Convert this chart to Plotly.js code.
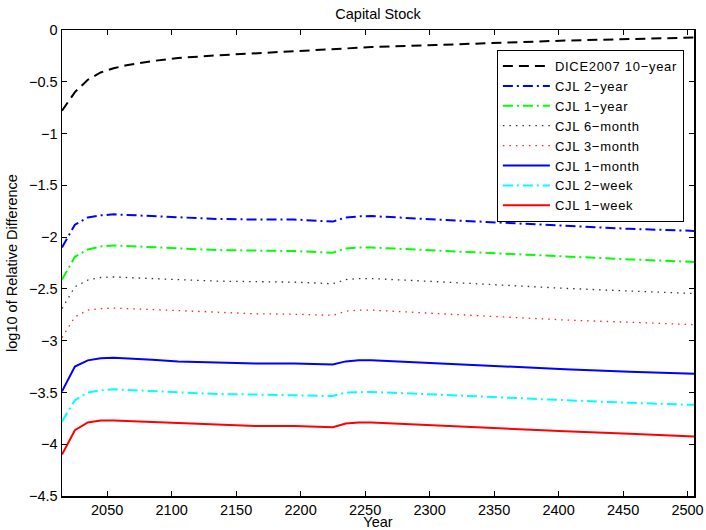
<!DOCTYPE html>
<html>
<head>
<meta charset="utf-8">
<script src="https://cdn.plot.ly/plotly-3.0.1.min.js"></script>
<style>
  html, body { margin: 0; padding: 0; background: #fff; }
  #chart { width: 706px; height: 530px; }
  text.legendtext { letter-spacing: 0.7px; }
</style>
</head>
<body>
<div id="chart"></div>
<script>
// Model years (10-year steps, selected nodes)
const years = [2015, 2025, 2035, 2045, 2055, 2065, 2085, 2105, 2135, 2165, 2195,
               2225, 2235, 2245, 2255, 2305, 2355, 2405, 2455, 2505];

// log10 of relative difference in capital stock
const dice10yr = [-0.78, -0.60, -0.48, -0.41, -0.37, -0.34, -0.30, -0.27, -0.245, -0.225, -0.205,
                  -0.185, -0.18, -0.172, -0.165, -0.145, -0.122, -0.102, -0.087, -0.073];
const cjl2yr   = [-2.10, -1.88, -1.81, -1.79, -1.78, -1.785, -1.80, -1.81, -1.825, -1.83, -1.83,
                  -1.85, -1.81, -1.80, -1.797, -1.83, -1.86, -1.89, -1.92, -1.94];
const cjl1yr   = [-2.41, -2.19, -2.12, -2.09, -2.08, -2.085, -2.10, -2.11, -2.125, -2.13, -2.135,
                  -2.15, -2.11, -2.10, -2.10, -2.13, -2.16, -2.19, -2.215, -2.24];
const cjl6mo   = [-2.69, -2.48, -2.415, -2.39, -2.385, -2.39, -2.405, -2.415, -2.425, -2.43, -2.435,
                  -2.45, -2.41, -2.40, -2.40, -2.43, -2.465, -2.495, -2.52, -2.545];
const cjl3mo   = [-2.97, -2.77, -2.705, -2.69, -2.685, -2.69, -2.705, -2.715, -2.73, -2.74, -2.745,
                  -2.755, -2.715, -2.705, -2.705, -2.74, -2.77, -2.80, -2.82, -2.845];
const cjl1mo   = [-3.49, -3.25, -3.19, -3.17, -3.165, -3.17, -3.185, -3.20, -3.21, -3.22, -3.22,
                  -3.23, -3.20, -3.19, -3.19, -3.22, -3.25, -3.275, -3.30, -3.32];
const cjl2wk   = [-3.78, -3.575, -3.50, -3.48, -3.47, -3.475, -3.49, -3.50, -3.515, -3.52, -3.525,
                  -3.535, -3.50, -3.495, -3.495, -3.52, -3.55, -3.575, -3.60, -3.62];
const cjl1wk   = [-4.10, -3.865, -3.79, -3.77, -3.77, -3.775, -3.79, -3.80, -3.815, -3.825, -3.825,
                  -3.835, -3.80, -3.79, -3.79, -3.82, -3.85, -3.875, -3.90, -3.925];

const seriesNames = ['DICE2007 10\u2212year', 'CJL 2\u2212year', 'CJL 1\u2212year', 'CJL 6\u2212month',
                     'CJL 3\u2212month', 'CJL 1\u2212month', 'CJL 2\u2212week', 'CJL 1\u2212week'];

const yTickVals = [0, -0.5, -1, -1.5, -2, -2.5, -3, -3.5, -4, -4.5];
const yTickText = ['0', '\u22120.5', '\u22121', '\u22121.5', '\u22122', '\u22122.5', '\u22123', '\u22123.5', '\u22124', '\u22124.5'];
const xTickVals = [2050, 2100, 2150, 2200, 2250, 2300, 2350, 2400, 2450, 2500];

const styles = [
  { color: '#000000', width: 2,   dash: '10px,6px' },
  { color: '#0000ff', width: 2,   dash: '10px,4px,2px,4px' },
  { color: '#00ff00', width: 2,   dash: '10px,4px,2px,4px' },
  { color: '#333333', width: 1.3, dash: '1.5px,5px' },
  { color: '#ff2020', width: 1.3, dash: '1.5px,5px' },
  { color: '#0000ff', width: 2,   dash: 'solid' },
  { color: '#00ffff', width: 2,   dash: '10px,4px,2px,4px' },
  { color: '#ff0000', width: 2,   dash: 'solid' }
];

const values = [dice10yr, cjl2yr, cjl1yr, cjl6mo, cjl3mo, cjl1mo, cjl2wk, cjl1wk];

const traces = values.map((v, i) => ({
  type: 'scatter',
  mode: 'lines',
  x: years,
  y: v,
  name: seriesNames[i],
  line: styles[i],
  hoverinfo: 'skip'
}));

const font = { family: 'Liberation Sans, Arial, Helvetica, sans-serif', size: 14.5, color: '#000' };
const legendFont = { family: 'Liberation Sans, Arial, Helvetica, sans-serif', size: 13, color: '#000' };

const layout = {
  width: 706,
  height: 530,
  margin: { l: 62, r: 12, t: 30, b: 34, pad: 0 },
  paper_bgcolor: '#fff',
  plot_bgcolor: '#fff',
  font: font,
  showlegend: true,
  title: { text: 'Capital Stock', font: font, x: 0.5, xref: 'paper', y: 1 - 14 / 530, yanchor: 'middle' },
  xaxis: {
    range: [2015, 2505],
    tickvals: xTickVals,
    ticks: 'inside', ticklen: 5, tickcolor: '#000', tickwidth: 1,
    showline: true, linecolor: '#000', linewidth: 1.5, mirror: 'allticks',
    showgrid: false, zeroline: false,
    tickfont: font,
    title: { text: 'Year', font: font, standoff: 0 },
    automargin: false
  },
  yaxis: {
    range: [-4.5, 0],
    tickvals: yTickVals, ticktext: yTickText,
    ticks: 'inside', ticklen: 5, tickcolor: '#000', tickwidth: 1,
    showline: true, linecolor: '#000', linewidth: 1.5, mirror: 'allticks',
    showgrid: false, zeroline: false,
    tickfont: font,
    title: { text: 'log10 of Relative Difference', font: font, standoff: 8 },
    automargin: false
  },
  legend: {
    x: 0.984, xanchor: 'right', xref: 'paper',
    y: 0.957, yanchor: 'top', yref: 'paper',
    bgcolor: '#fff', bordercolor: '#000', borderwidth: 1,
    font: legendFont, tracegroupgap: 0, itemwidth: 47
  }
};

Plotly.newPlot('chart', traces, layout, { displayModeBar: false, staticPlot: true });
</script>
</body>
</html>
